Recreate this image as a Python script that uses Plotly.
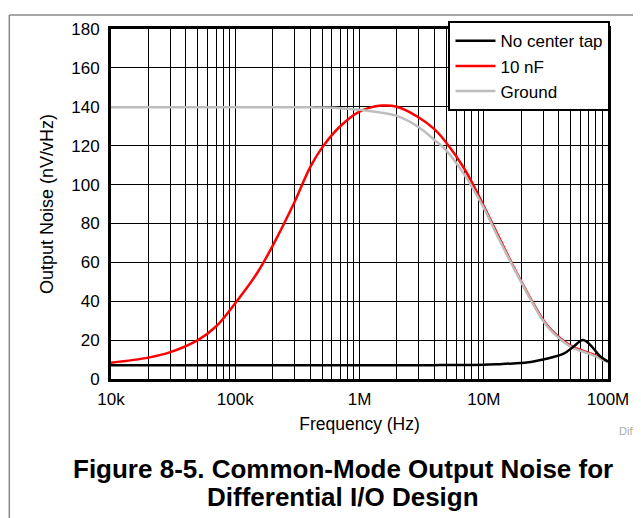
import plotly.graph_objects as go

# frequency points (Hz)
freq = [10e3, 20e3, 30e3, 50e3, 70e3, 100e3, 150e3, 200e3, 300e3, 400e3, 500e3, 700e3,
        1e6, 1.5e6, 2e6, 3e6, 4e6, 5e6, 7e6, 10e6, 13e6, 17e6, 24e6, 32e6, 44e6, 52e6,
        63e6, 75e6, 85e6, 100e6]

# output noise (nV/rtHz)
no_tap = [7.1, 7.1, 7.1, 7.1, 7.1, 7.1, 7.1, 7.1, 7.1, 7.1, 7.1, 7.1,
          7.1, 7.1, 7.1, 7.1, 7.1, 7.2, 7.2, 7.3, 7.6, 8.0, 8.8, 10.4, 13.0, 16.3,
          20.0, 16.3, 12.1, 9.0]
nf10 = [8.4, 11.0, 13.8, 20.0, 27.0, 39.0, 54.5, 68.5, 91.0, 108.8, 119.0, 130.0,
        137.5, 140.6, 140.0, 134.5, 128.5, 121.5, 108.0, 89.0, 74.0, 59.0, 41.0, 28.0, 19.5, 16.5,
        14.5, 12.8, 11.2, 8.7]
ground = [139.7, 139.7, 139.7, 139.7, 139.7, 139.7, 139.7, 139.7, 139.7, 139.7, 139.6, 139.3,
          138.5, 137.0, 135.3, 129.5, 123.0, 117.5, 105.0, 88.0, 73.0, 58.5, 40.5, 27.5, 19.0, 16.0,
          14.0, 12.3, 10.8, 8.5]

xticks = [1e4, 1e5, 1e6, 1e7, 1e8]
xlabels = ["10k", "100k", "1M", "10M", "100M"]

FONT = "Liberation Sans, Arial, sans-serif"

fig = go.Figure()
fig.add_trace(go.Scatter(x=freq, y=nf10, name="10 nF", mode="lines", legendrank=2,
                         line=dict(color="#ff0000", width=2.5, shape="spline", smoothing=1)))
fig.add_trace(go.Scatter(x=freq, y=ground, name="Ground", mode="lines", legendrank=3,
                         line=dict(color="#bdbdbd", width=2.5, shape="spline", smoothing=1)))
fig.add_trace(go.Scatter(x=freq, y=no_tap, name="No center tap", mode="lines", legendrank=1,
                         line=dict(color="black", width=2.5, shape="spline", smoothing=1)))

fig.update_xaxes(type="log", range=[4, 8], tickvals=xticks, ticktext=xlabels,
                 showgrid=True, gridcolor="black", gridwidth=1,
                 minor=dict(showgrid=True, gridcolor="black", gridwidth=1, dtick="D1", ticklen=0),
                 showline=True, linecolor="black", linewidth=3, mirror=True,
                 ticks="", tickfont=dict(size=17, color="black"), ticklabelstandoff=3,
                 title=dict(text="Frequency (Hz)", font=dict(size=17.5, color="black"), standoff=10))
fig.update_yaxes(range=[0, 180], dtick=20, showgrid=True, gridcolor="black", gridwidth=1,
                 showline=True, linecolor="black", linewidth=3, mirror=True,
                 ticks="", tickfont=dict(size=17, color="black"), zeroline=False, ticklabelstandoff=5,
                 title=dict(text="Output Noise (nV/vHz)", font=dict(size=18, color="black"), standoff=13))

# the page body adds an 8 px offset, so the figure is 8 px smaller and margins shifted
fig.update_layout(
    width=633, height=510,
    margin=dict(l=103, r=29, t=15, b=139),
    plot_bgcolor="white", paper_bgcolor="white",
    font=dict(family=FONT, color="black"),
    legend=dict(x=1.005, xanchor="right", y=1.022, yanchor="top", bgcolor="white",
                bordercolor="black", borderwidth=2, font=dict(size=17),
                tracegroupgap=0, itemwidth=40),
    annotations=[
        dict(text="<b>Figure 8-5. Common-Mode Output Noise for</b>",
             xref="paper", yref="paper", x=0.467, y=-0.256, xanchor="center", yanchor="middle",
             showarrow=False, font=dict(size=26, color="black")),
        dict(text="<b>Differential I/O Design</b>",
             xref="paper", yref="paper", x=0.467, y=-0.338, xanchor="center", yanchor="middle",
             showarrow=False, font=dict(size=26, color="black")),
        dict(text="Diff", xref="paper", yref="paper", x=1.018, y=-0.15, xanchor="left",
             yanchor="middle", showarrow=False, font=dict(size=11, color="#aaaaaa")),
    ],
    shapes=[
        dict(type="line", xref="paper", yref="paper", x0=-0.2046, x1=1.1, y0=1.04, y1=1.04,
             line=dict(color="#888888", width=1.5)),
        dict(type="line", xref="paper", yref="paper", x0=-0.2046, x1=-0.2046, y0=1.04, y1=-0.4,
             line=dict(color="#888888", width=1.5)),
    ],
)

fig.write_html("out.html")
